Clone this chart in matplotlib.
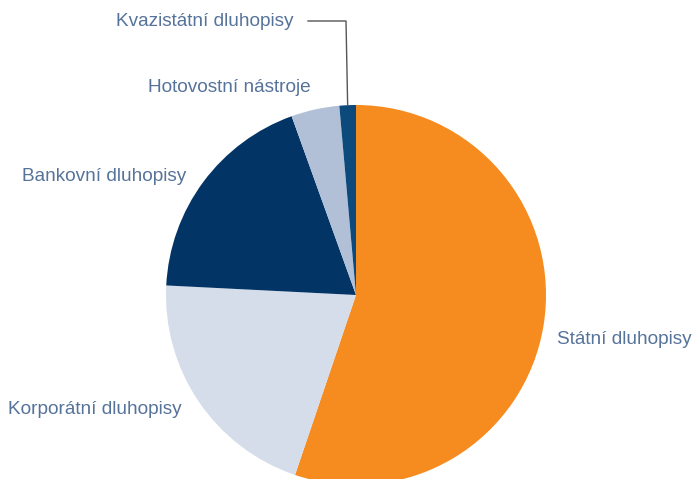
import numpy as np
import matplotlib.pyplot as plt

# portfolio structure (share in %)
categories = ['Státní dluhopisy', 'Korporátní dluhopisy', 'Bankovní dluhopisy',
              'Hotovostní nástroje', 'Kvazistátní dluhopisy']
shares = [55.2, 20.6, 18.7, 4.1, 1.4]
colors = ['#f68b1f', '#d5ddea', '#023565', '#b2c0d7', '#0c4a7c']

# label layout in pixel coordinates (x, y from top, alignment)
label_pos = [(557, 339, 'left'), (8, 409, 'left'), (22, 176, 'left'),
             (148, 87, 'left'), (294, 21, 'right')]

W, H = 694, 479
cx, cy, r = 356, 295, 190
text_color = '#56739a'

fig = plt.figure(figsize=(W / 100, H / 100), dpi=100)
ax = fig.add_axes([0, 0, 1, 1])

wedges, _ = ax.pie(shares, colors=colors, startangle=90, counterclock=False,
                   center=(cx, H - cy), radius=r,
                   wedgeprops=dict(linewidth=0))
ax.set_xlim(0, W)
ax.set_ylim(0, H)
ax.set_aspect('equal')
ax.axis('off')

for name, (x, y, ha) in zip(categories, label_pos):
    ax.text(x, H - y, name, ha=ha, va='center', fontsize=13.7,
            family='Liberation Sans', color=text_color)

# leader line for the small slice
w = wedges[-1]
mid = np.deg2rad((w.theta1 + w.theta2) / 2)
ex, ey = cx + r * np.cos(mid), H - cy + r * np.sin(mid)
ax.plot([308, 346, ex], [H - 21, H - 21, ey], color='#555555', lw=1.0)

fig.savefig('out.png', dpi=100)
